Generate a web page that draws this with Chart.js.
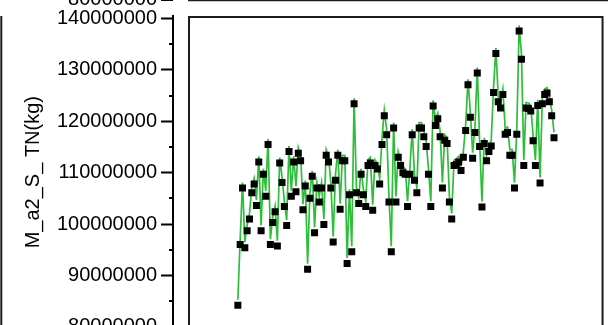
<!DOCTYPE html>
<html>
<head>
<meta charset="utf-8">
<script src="https://cdn.jsdelivr.net/npm/chart.js@4.4.1/dist/chart.umd.min.js"></script>
<style>
  html, body { margin: 0; padding: 0; background: #fff; }
  #wrap { width: 608px; height: 325px; overflow: hidden; position: relative; }
  #tnChart { display: block; }
</style>
</head>
<body>
<div id="wrap"><canvas id="tnChart" width="608" height="345"></canvas></div>
<script>
// M_a2_S_ TN per sample, in millions of kg
const massTN = [
  84.2, 96.0, 107.0, 95.4, 98.7, 101.0, 106.1, 107.8, 103.6, 112.1,
  98.7, 109.7, 105.4, 115.5, 96.0, 100.3, 102.4, 95.7, 111.9, 108.1,
  103.4, 99.7, 114.1, 105.4, 112.1, 106.3, 113.8, 112.3, 102.8, 107.4,
  91.2, 105.0, 109.3, 98.3, 107.0, 104.3, 107.0, 99.9, 113.4, 112.1,
  107.0, 96.5, 108.5, 113.4, 102.9, 112.3, 112.3, 92.3, 105.7, 94.6,
  123.4, 106.1, 104.0, 109.7, 105.7, 103.4, 111.4, 111.9, 102.7, 111.4,
  110.7, 107.8, 115.5, 121.1, 117.4, 104.3, 94.6, 118.7, 104.3, 113.0,
  111.4, 110.0, 109.7, 103.4, 109.7, 117.4, 108.5, 106.1, 118.7, 118.7,
  117.0, 115.1, 109.7, 103.4, 123.0, 119.2, 120.5, 117.0, 107.0, 116.3,
  115.7, 104.3, 101.0, 111.4, 111.6, 112.1, 110.4, 113.0, 118.2, 127.1,
  120.8, 112.8, 117.8, 129.4, 115.1, 103.3, 115.7, 112.3, 114.1, 115.2,
  125.6, 133.2, 123.8, 122.6, 125.2, 117.5, 117.8, 113.4, 113.4, 107.0,
  117.5, 137.6, 132.1, 111.4, 122.6, 122.5, 122.0, 116.2, 111.4, 123.1,
  108.0, 123.4, 125.2, 125.5, 123.8, 121.1, 116.8
];
const sampleNo = massTN.map((_, i) => i + 1);

const yTicks = [80000000, 90000000, 100000000, 110000000, 120000000, 130000000, 140000000];
const yMin = 79700000;
const yMax = 140500000;
const neighbourLabel = '80000000';
const yTitle = 'M_a2_S_ TN(kg)';

const FONT = '"Liberation Sans", Arial, Helvetica, sans-serif';
const LINE_LIFT = -5.5;   // connecting line sits a little above the markers

const points = sampleNo.map((s, i) => ({ x: s, y: massTN[i] * 1e6 }));

const panelFrames = {
  id: 'panelFrames',
  beforeDatasetDraw(chart, args) {
    if (args.index === 0) {
      chart.ctx.save();
      chart.ctx.translate(0, LINE_LIFT);
    }
  },
  afterDatasetDraw(chart, args) {
    if (args.index === 0) chart.ctx.restore();
  },
  afterDraw(chart) {
    const { ctx, chartArea: a, scales: { y } } = chart;
    ctx.save();
    ctx.strokeStyle = '#1c1c1c';
    ctx.lineWidth = 2;

    // plot frame, set in from the axis
    ctx.strokeRect(a.left + 16, a.top + 1, a.right - 0.5 - (a.left + 16), a.bottom - a.top);

    // minor ticks halfway between labelled ones
    ctx.strokeStyle = '#000';
    const t = y.ticks;
    for (let i = 0; i + 1 < t.length; i++) {
      const py = Math.round(y.getPixelForValue((t[i].value + t[i + 1].value) / 2));
      ctx.beginPath();
      ctx.moveTo(a.left - 4, py);
      ctx.lineTo(a.left, py);
      ctx.stroke();
    }

    // edge of the panel to the left
    ctx.strokeStyle = '#1c1c1c';
    ctx.beginPath();
    ctx.moveTo(1.3, a.top);
    ctx.lineTo(1.3, chart.height);
    ctx.stroke();

    // bottom edge of the panel above
    ctx.beginPath();
    ctx.moveTo(a.left + 15, 0.3);
    ctx.lineTo(chart.width, 0.3);
    ctx.stroke();
    ctx.strokeStyle = '#000';
    ctx.beginPath();
    ctx.moveTo(a.left - 12, 0);
    ctx.lineTo(a.left, 0);
    ctx.stroke();
    ctx.fillStyle = '#000';
    ctx.font = '20px ' + FONT;
    ctx.textAlign = 'right';
    ctx.textBaseline = 'middle';
    ctx.fillText(neighbourLabel, a.left - 16, -1);
    ctx.restore();
  }
};

new Chart(document.getElementById('tnChart'), {
  type: 'line',
  data: {
    datasets: [
      {
        data: points,
        borderColor: '#2dbe3a',
        borderWidth: 1.7,
        pointRadius: 0,
        tension: 0,
        order: 1
      },
      {
        data: points,
        showLine: false,
        pointStyle: 'rect',
        pointRadius: 4.95,
        pointBackgroundColor: '#000',
        pointBorderWidth: 0,
        order: 0
      }
    ]
  },
  options: {
    responsive: false,
    animation: false,
    events: [],
    layout: { padding: { top: 14, right: 1, bottom: 16.7, left: 0 } },
    plugins: {
      legend: { display: false },
      tooltip: { enabled: false }
    },
    scales: {
      x: {
        type: 'linear',
        display: false,
        min: -26.9,
        max: 158.1
      },
      y: {
        min: yMin,
        max: yMax,
        afterBuildTicks: (scale) => { scale.ticks = yTicks.map((v) => ({ value: v })); },
        afterFit: (scale) => { scale.width = 173; },
        border: { display: true, color: '#000', width: 2 },
        grid: {
          drawOnChartArea: false,
          drawTicks: true,
          tickLength: 12,
          tickWidth: 2,
          tickColor: '#000'
        },
        ticks: {
          autoSkip: false,
          padding: 4,
          color: '#000',
          font: { family: FONT, size: 20 },
          callback: (v) => String(v)
        },
        title: {
          display: true,
          text: yTitle,
          color: '#000',
          font: { family: FONT, size: 20 },
          padding: { top: 21, bottom: 0 }
        }
      }
    }
  },
  plugins: [panelFrames]
});
</script>
</body>
</html>
